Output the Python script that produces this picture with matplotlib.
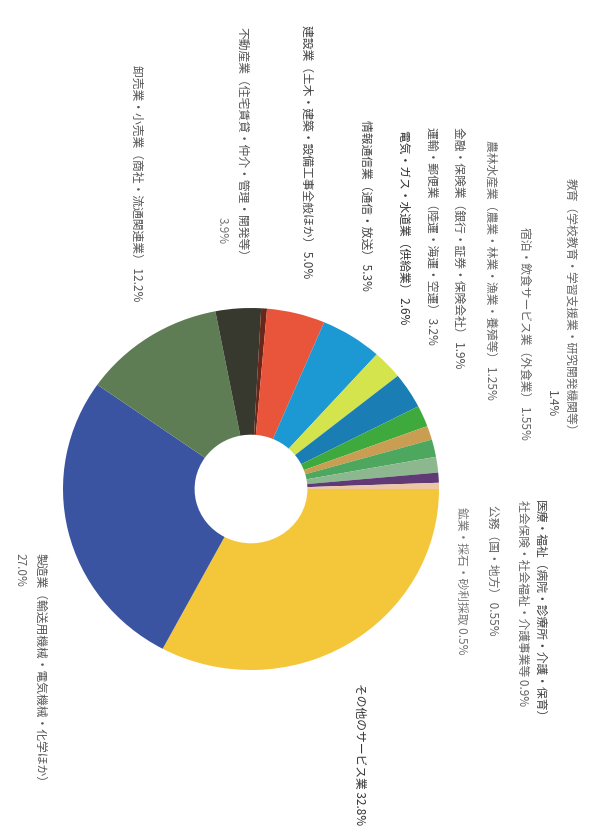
import matplotlib
matplotlib.use("Agg")
import matplotlib.pyplot as plt

plt.rcParams['font.family'] = ['Noto Sans CJK JP', 'DejaVu Sans']

# ---- data (slices clockwise from 3 o'clock in the rotated picture) ----
categories = [
    "その他のサービス業", "製造業", "卸売業・小売業", "不動産業", "鉱業",
    "建設業", "情報通信業", "電気・ガス・水道業", "運輸・郵便業",
    "金融・保険業", "農林水産業", "宿泊・飲食サービス業", "教育",
    "医療・福祉", "公務",
]
values = [32.8, 27.0, 12.2, 3.9, 0.5, 5.0, 5.3, 2.6, 3.2, 1.9,
          1.25, 1.55, 1.4, 0.9, 0.55]
colors = ["#F4C73B", "#3A54A2", "#5E7D55", "#37382E", "#6A2618",
          "#E9553A", "#1C98D2", "#D3E44C", "#1A7DB4", "#3EAA3D",
          "#C99E52", "#4DA75E", "#8DB78F", "#603A74", "#EDC6A4"]

# label texts (each line separately, Japanese)
label_lines = [
    "その他のサービス業 32.8%",
    "製造業（輸送用機械・電気機械・化学ほか）",
    "27.0%",
    "卸売業・小売業（商社・流通関連業） 12.2%",
    "不動産業（住宅賃貸・仲介・管理・開発等）",
    "3.9%",
    "建設業（土木・建築・設備工事全般ほか） 5.0%",
    "情報通信業（通信・放送） 5.3%",
    "電気・ガス・水道業（供給業） 2.6%",
    "運輸・郵便業（陸運・海運・空運） 3.2%",
    "金融・保険業（銀行・証券・保険会社） 1.9%",
    "農林水産業（農業・林業・漁業・養殖等） 1.25%",
    "宿泊・飲食サービス業（外食業） 1.55%",
    "教育（学校教育・学習支援業・研究開発機関等）",
    "1.4%",
    "鉱業・採石・砂利採取 0.5%",
    "公務（国・地方） 0.55%",
    "医療・福祉（病院・診療所・介護・保育）",
    "社会保険・社会福祉・介護事業等 0.9%",
]
# layout of each label line: (x px, top y px, colour)
label_pos = [
    (360, 683, "#333333"),
    (40, 553, "#555555"),
    (20, 553, "#666666"),
    (137, 65, "#555555"),
    (242, 27, "#555555"),
    (222, 217, "#777777"),
    (307, 25, "#444444"),
    (366, 120, "#444444"),
    (404, 130, "#333333"),
    (432, 127, "#555555"),
    (459, 127, "#555555"),
    (491, 140, "#666666"),
    (525, 227, "#666666"),
    (571, 178, "#666666"),
    (551, 390, "#555555"),
    (462, 507, "#777777"),
    (493, 505, "#666666"),
    (540, 500, "#444444"),
    (523, 500, "#666666"),
]

W, H = 603, 836
fig = plt.figure(figsize=(W / 100, H / 100), dpi=100)
fig.patch.set_facecolor("white")

cx, cy, rx, ry = 251, 489, 188, 181
ax = fig.add_axes([(cx - rx) / W, (H - cy - ry) / H, 2 * rx / W, 2 * ry / H])
ax.pie(values, colors=colors, startangle=0, counterclock=False,
       radius=1.0, wedgeprops=dict(width=0.70, linewidth=0))
ax.set_xlim(-1, 1)
ax.set_ylim(-1, 1)
ax.set_aspect("auto")
ax.axis("off")

for text, (x, y, c) in zip(label_lines, label_pos):
    fig.text(x / W, 1 - y / H, text, rotation=-90, ha="center", va="top",
             fontsize=8.5, color=c)

fig.savefig("out.png", dpi=100)
